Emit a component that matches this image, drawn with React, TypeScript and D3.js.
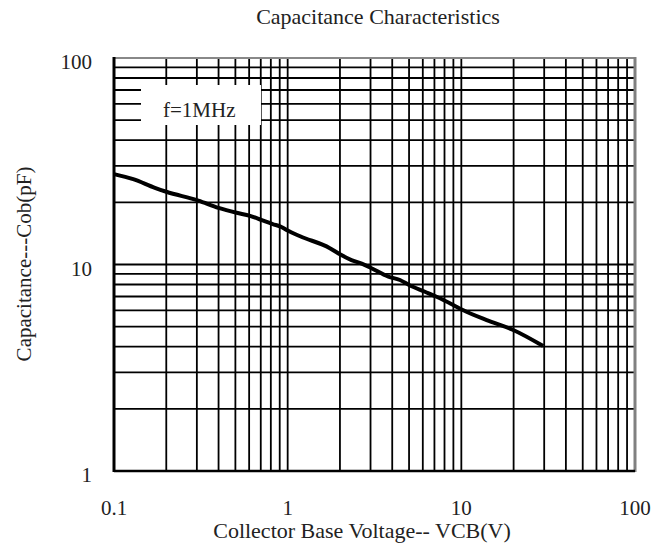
import React from "react";
import * as d3 from "d3";

const titleText = "Capacitance Characteristics";
const xLabel = "Collector Base Voltage-- VCB(V)";
const yLabel = "Capacitance---Cob(pF)";
const legendText = "f=1MHz";

const xTicks = [0.1, 1, 10, 100];
const xTickLabels = ["0.1", "1", "10", "100"];
const yTicks = [1, 10, 100];
const yTickLabels = ["1", "10", "100"];

const vcb = [0.1, 0.129, 0.172, 0.2, 0.306, 0.4, 0.508, 0.607, 0.71, 0.82, 0.92, 1.0, 1.18, 1.75, 2.0, 2.33, 2.67, 3.0, 3.8, 4.43, 5.0, 6.17, 7.2, 8.98, 10.2, 14.0, 19.9, 29.6];
const cob = [27.4, 25.9, 23.5, 22.5, 20.4, 18.8, 17.8, 17.2, 16.4, 15.7, 15.2, 14.6, 13.7, 12.0, 11.2, 10.5, 10.1, 9.65, 8.73, 8.41, 7.96, 7.38, 6.98, 6.37, 6.02, 5.38, 4.82, 4.03];

const W = 666;
const H = 549;
const L = 114, R = 635, T = 58, B = 471;
const FONT = "'Liberation Serif', 'Times New Roman', serif";

export default function App() {
  const x = d3.scaleLog().domain([0.1, 100]).range([L, R]);
  const y = d3.scaleLog().domain([1, 100]).range([B, T]);

  const xGrid: number[] = [];
  [0.1, 1, 10].forEach((d) => {
    for (let k = 1; k <= 9; k++) xGrid.push(d * k);
  });
  xGrid.push(100);
  const yGrid: number[] = [];
  [1, 10].forEach((d) => {
    for (let k = 1; k <= 9; k++) yGrid.push(d * k);
  });
  yGrid.push(100);

  const line = d3
    .line<number>()
    .x((_, i) => x(vcb[i]))
    .y((d) => y(d))
    .curve(d3.curveMonotoneX);

  return (
    <svg
      width={W}
      height={H}
      style={{ position: "absolute", left: 0, top: 0, background: "#fff" }}
    >
      <rect x={0} y={0} width={W} height={H} fill="#fff" />
      <g stroke="#000" strokeWidth={1.8}>
        {xGrid.map((v, i) => (
          <line key={"vx" + i} x1={x(v)} x2={x(v)} y1={T} y2={B} />
        ))}
        {yGrid.map((v, i) => (
          <line key={"hy" + i} x1={L} x2={R} y1={y(v)} y2={y(v)} />
        ))}
      </g>
      <rect x={141} y={85} width={120} height={40} fill="#fff" />
      <text x={163} y={117} fontFamily={FONT} fontSize={21} fill="#222">
        {legendText}
      </text>
      <path d={line(cob) || ""} fill="none" stroke="#000" strokeWidth={4} strokeLinejoin="round" />
      <line x1={L} x2={R} y1={T} y2={T} stroke="#888" strokeWidth={2} />
      <line x1={R} x2={R} y1={T - 1} y2={B + 1} stroke="#808080" strokeWidth={3} />
      <line x1={L} x2={L} y1={T - 1} y2={B + 1} stroke="#000" strokeWidth={3} />
      <line x1={L} x2={R} y1={B} y2={B} stroke="#000" strokeWidth={2.5} />
      <text x={378} y={24} textAnchor="middle" fontFamily={FONT} fontSize={22} fill="#222">
        {titleText}
      </text>
      {xTicks.map((v, i) => (
        <text key={"xt" + i} x={x(v)} y={515} textAnchor="middle" fontFamily={FONT} fontSize={21} fill="#222">
          {xTickLabels[i]}
        </text>
      ))}
      {yTicks.map((v, i) => (
        <text key={"yt" + i} x={92} y={y(v) + 11} textAnchor="end" fontFamily={FONT} fontSize={21} fill="#222">
          {yTickLabels[i]}
        </text>
      ))}
      <text x={362} y={538} textAnchor="middle" fontFamily={FONT} fontSize={22} fill="#222">
        {xLabel}
      </text>
      <text
        transform={`translate(31,264) rotate(-90)`}
        textAnchor="middle"
        fontFamily={FONT}
        fontSize={21}
        fill="#222"
      >
        {yLabel}
      </text>
    </svg>
  );
}
